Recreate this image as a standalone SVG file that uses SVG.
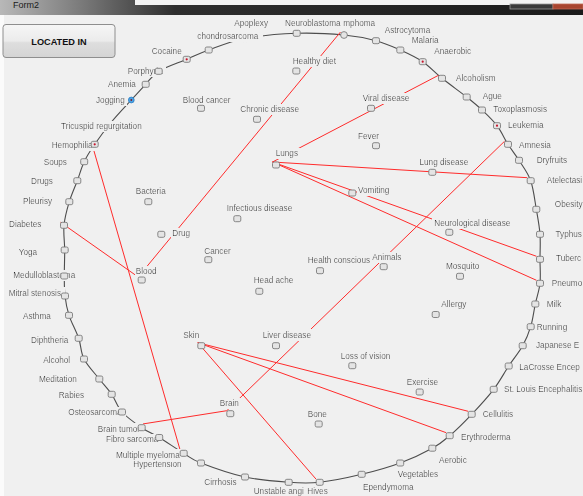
<svg xmlns="http://www.w3.org/2000/svg" xmlns:xlink="http://www.w3.org/1999/xlink" width="583" height="496" viewBox="0 0 583 496">
  <style>
    .lbl { font-family: "Liberation Sans", Arial, sans-serif; font-size: 8.2px; fill: #1c1c1c; filter: url(#lblbg); }
    .box { fill: #e4e4e4; stroke: #7c7c7c; stroke-width: 0.9; }
    .dot { fill: #c8142c; }
    .ring { fill: none; stroke: #4d4d4d; stroke-width: 1.1; }
    .edge { stroke: #ff2b2b; stroke-width: 1; fill: none; }
    .btn-text { font-family: "Liberation Sans", Arial, sans-serif; font-size: 9.2px; font-weight: bold; fill: #111; }
  </style>
  <defs>
    <!-- opaque label background, like a WinForms label control -->
    <filter id="lblbg" x="-0.02" y="-0.08" width="1.08" height="1.15">
      <feFlood flood-color="#f0f0f0"/>
      <feMerge>
        <feMergeNode/>
        <feMergeNode in="SourceGraphic"/>
      </feMerge>
    </filter>
    <linearGradient id="titleGrad" x1="0" y1="0" x2="1" y2="0">
      <stop offset="0" stop-color="#b8b8b8"/>
      <stop offset="0.14" stop-color="#7a7a7a"/>
      <stop offset="0.3" stop-color="#2e2e2e"/>
      <stop offset="1" stop-color="#1b1b1b"/>
    </linearGradient>
    <linearGradient id="btnGrad" x1="0" y1="0" x2="0" y2="1">
      <stop offset="0" stop-color="#f6f6f6"/>
      <stop offset="0.5" stop-color="#ebebeb"/>
      <stop offset="0.55" stop-color="#dedede"/>
      <stop offset="1" stop-color="#d4d4d4"/>
    </linearGradient>
    <rect id="box" class="box" width="7" height="6" rx="1.6"/>
    <circle id="dot" class="dot" cx="3.5" cy="3" r="1.1"/>
  </defs>

  <!-- form background -->
  <rect width="583" height="496" fill="#f0f0f0"/>
  <rect x="0" y="15" width="4" height="481" fill="#fbfbfb"/>

  <!-- window title strip -->
  <g id="title-bar">
    <rect x="0" y="0" width="583" height="15" fill="url(#titleGrad)"/>
    <rect x="135" y="0" width="448" height="5" fill="#f3f3f3"/>
    <rect x="510" y="4" width="43" height="5" fill="#3a3a3a" stroke="#9a9a9a" stroke-width="0.8"/>
    <rect x="553" y="4" width="30" height="5" fill="#a8452f" stroke="#c06a55" stroke-width="0.8"/>
    <text x="13" y="8" font-family="Liberation Sans, Arial, sans-serif" font-size="9" fill="#1a1a1a">Form2</text>
  </g>

  <!-- action button -->
  <g id="btn-located-in">
    <rect x="3" y="24.5" width="112" height="33" rx="3" fill="url(#btnGrad)" stroke="#8e8e8e" stroke-width="1"/>
    <text class="btn-text" x="59" y="44.5" text-anchor="middle">LOCATED IN</text>
  </g>

  <!-- outer ring through the peripheral nodes -->
  <path id="ring" class="ring" d="M296.7,33.3
    C313.2,32.72 330.78,33.77 344,35
    C357.22,36.23 366.62,38.2 376,40.7
    C385.38,43.2 392.52,46.5 400.3,50
    C408.08,53.5 415.75,56.98 422.7,61.7
    C429.65,66.42 434.67,72.42 442,78.3
    C449.33,84.18 460.03,91.72 466.7,97
    C473.37,102.28 476.95,105.22 482,110
    C487.05,114.78 492.67,119.98 497,125.7
    C501.33,131.42 504.33,138.53 508,144.3
    C511.67,150.07 515.22,154.23 519,160.3
    C522.78,166.37 527.82,172.53 530.7,180.7
    C533.58,188.87 534.75,200.37 536.3,209.3
    C537.85,218.23 539.38,225.97 540,234.3
    C540.62,242.63 540,251.13 540,259.3
    C540,267.47 540.78,275.85 540,283.3
    C539.22,290.75 536.85,296.77 535.3,304
    C533.75,311.23 532.8,319.75 530.7,326.7
    C528.6,333.65 526.37,339.15 522.7,345.7
    C519.03,352.25 513.53,358.73 508.7,366
    C503.87,373.27 499.87,381.25 493.7,389.3
    C487.53,397.35 479.03,406.57 471.7,414.3
    C464.37,422.03 456.27,430.05 449.7,435.7
    C443.13,441.35 440.55,443.65 432.3,448.2
    C424.05,452.75 411.97,458.65 400.2,463
    C388.43,467.35 375.12,471.08 361.7,474.3
    C348.28,477.52 331.87,480.97 319.7,482.3
    C307.53,483.63 301.15,483.18 288.7,482.3
    C276.25,481.42 259.62,480.22 245,477
    C230.38,473.78 211.22,466.95 201,463
    C190.78,459.05 190.67,457.55 183.7,453.3
    C176.73,449.05 166.2,441.77 159.2,437.5
    C152.2,433.23 147.9,431.95 141.7,427.7
    C135.5,423.45 127,417.57 122,412
    C117,406.43 115.48,399.8 111.7,394.3
    C107.92,388.8 103.92,384.88 99.3,379
    C94.68,373.12 87.43,365.78 84,359
    C80.57,352.22 81.2,345.58 78.7,338.3
    C76.2,331.02 71.28,322.35 69,315.3
    C66.72,308.25 65.78,302.55 65,296
    C64.22,289.45 64.35,283.67 64.3,276
    C64.25,268.33 64.75,258.45 64.7,250
    C64.65,241.55 63.23,233.35 64,225.3
    C64.77,217.25 67.08,209.13 69.3,201.7
    C71.52,194.27 74.82,187.37 77.3,180.7
    C79.78,174.03 81.3,167.77 84.2,161.7
    C87.1,155.63 90.15,150.92 94.7,144.3
    C99.25,137.68 105.4,129.38 111.5,122
    C117.6,114.62 125.6,106.28 131.3,100
    C137,93.72 141.13,89.08 145.7,84.3
    C150.27,79.52 151.87,75.47 158.7,71.3
    C165.53,67.13 178.37,62.85 186.7,59.3
    C195.03,55.75 198.98,53.47 208.7,50
    C218.42,46.53 230.33,41.28 245,38.5
    C259.67,35.72 280.2,33.88 296.7,33.3 Z"/>

  <!-- relation connectors -->
  <g id="connectors" class="edge">
    <line x1="91.2" y1="141.3" x2="180.2" y2="450.3"/>
    <line x1="60.5" y1="222.3" x2="138.2" y2="277"/>
    <line x1="138.2" y1="277" x2="340.5" y2="32"/>
    <line x1="272.5" y1="162" x2="438.5" y2="75.3"/>
    <line x1="272.5" y1="162" x2="527.2" y2="177.7"/>
    <line x1="272.5" y1="162" x2="536.5" y2="256.3"/>
    <line x1="272.5" y1="162" x2="536.5" y2="280.3"/>
    <line x1="226.8" y1="410.7" x2="504.5" y2="141.3"/>
    <line x1="226.8" y1="410.7" x2="138.2" y2="424.7"/>
    <line x1="197.8" y1="342.7" x2="468.2" y2="411.3"/>
    <line x1="197.8" y1="342.7" x2="446.2" y2="432.7"/>
    <line x1="197.8" y1="342.7" x2="316.2" y2="479.3"/>
  </g>

  <!-- peripheral nodes -->
  <g id="n-neuroblastoma"><text class="lbl" x="285" y="26">Neuroblastoma</text><use href="#box" x="293.2" y="30.3"/></g>
  <g id="n-lymphoma"><text class="lbl" x="343.3" y="26">mphoma</text><circle class="box" cx="344" cy="35" r="3.4"/></g>
  <g id="n-astrocytoma"><text class="lbl" x="384.7" y="33.3">Astrocytoma</text><use href="#box" x="372.5" y="37.7"/></g>
  <g id="n-malaria"><text class="lbl" x="411.7" y="42.7">Malaria</text><use href="#box" x="396.8" y="47"/></g>
  <g id="n-anaerobic"><text class="lbl" x="434.3" y="54.3">Anaerobic</text><use href="#box" x="419.2" y="58.7"/><use href="#dot" x="419.2" y="58.7"/></g>
  <g id="n-alcoholism"><text class="lbl" x="456" y="81">Alcoholism</text><use href="#box" x="438.5" y="75.3"/></g>
  <g id="n-ague"><text class="lbl" x="482.7" y="99.3">Ague</text><use href="#box" x="463.2" y="94"/></g>
  <g id="n-toxoplasmosis"><text class="lbl" x="493.3" y="112.3">Toxoplasmosis</text><use href="#box" x="478.5" y="107"/></g>
  <g id="n-leukemia"><text class="lbl" x="508" y="128.3">Leukemia</text><use href="#box" x="493.5" y="122.7"/><use href="#dot" x="493.5" y="122.7"/></g>
  <g id="n-amnesia"><text class="lbl" x="519" y="147.7">Amnesia</text><use href="#box" x="504.5" y="141.3"/></g>
  <g id="n-dryfruits"><text class="lbl" x="536.7" y="162.7">Dryfruits</text><use href="#box" x="515.5" y="157.3"/></g>
  <g id="n-atelectasis"><text class="lbl" x="546.7" y="182.7">Atelectasi</text><use href="#box" x="527.2" y="177.7"/></g>
  <g id="n-obesity"><text class="lbl" x="554.8" y="207.3">Obesity</text><use href="#box" x="532.8" y="206.3"/></g>
  <g id="n-typhus"><text class="lbl" x="555.5" y="236.7">Typhus</text><use href="#box" x="536.5" y="231.3"/></g>
  <g id="n-tuberculosis"><text class="lbl" x="556" y="261">Tuberc</text><use href="#box" x="536.5" y="256.3"/></g>
  <g id="n-pneumonia"><text class="lbl" x="551.7" y="286">Pneumo</text><use href="#box" x="536.5" y="280.3"/></g>
  <g id="n-milk"><text class="lbl" x="546.7" y="307.3">Milk</text><use href="#box" x="531.8" y="301"/></g>
  <g id="n-running"><text class="lbl" x="536.7" y="330">Running</text><use href="#box" x="527.2" y="323.7"/></g>
  <g id="n-japanese-encephalitis"><text class="lbl" x="536" y="347.7">Japanese E</text><use href="#box" x="519.2" y="342.7"/></g>
  <g id="n-lacrosse-encephalitis"><text class="lbl" x="519.3" y="370">LaCrosse Encep</text><use href="#box" x="505.2" y="363"/></g>
  <g id="n-st-louis-encephalitis"><text class="lbl" x="504" y="392.3">St. Louis Encephalitis</text><use href="#box" x="490.2" y="386.3"/></g>
  <g id="n-cellulitis"><text class="lbl" x="482.7" y="416.7">Cellulitis</text><use href="#box" x="468.2" y="411.3"/></g>
  <g id="n-erythroderma"><text class="lbl" x="461" y="440">Erythroderma</text><use href="#box" x="446.2" y="432.7"/></g>
  <g id="n-aerobic"><text class="lbl" x="439" y="462.7">Aerobic</text><use href="#box" x="428.8" y="445.2"/></g>
  <g id="n-vegetables"><text class="lbl" x="397.7" y="476.7">Vegetables</text><use href="#box" x="396.7" y="460"/></g>
  <g id="n-ependymoma"><text class="lbl" x="363" y="490">Ependymoma</text><use href="#box" x="358.2" y="471.3"/></g>
  <g id="n-unstable-angina"><text class="lbl" x="253.7" y="494">Unstable angi</text><use href="#box" x="285.2" y="479.3"/></g>
  <g id="n-hives"><text class="lbl" x="307.3" y="494">Hives</text><use href="#box" x="316.2" y="479.3"/></g>
  <g id="n-cirrhosis"><text class="lbl" x="204.3" y="485">Cirrhosis</text><use href="#box" x="241.5" y="474"/></g>
  <g id="n-hypertension"><text class="lbl" x="133.3" y="467">Hypertension</text><use href="#box" x="197.5" y="460"/></g>
  <g id="n-multiple-myeloma"><text class="lbl" x="116" y="457.7">Multiple myeloma</text><use href="#box" x="180.2" y="450.3"/></g>
  <g id="n-fibro-sarcoma"><text class="lbl" x="106" y="442.3">Fibro sarcoma</text><use href="#box" x="155.7" y="434.5"/></g>
  <g id="n-brain-tumor"><text class="lbl" x="97.7" y="431.7">Brain tumor</text><use href="#box" x="138.2" y="424.7"/></g>
  <g id="n-osteosarcoma"><text class="lbl" x="68.3" y="415.3">Osteosarcoma</text><use href="#box" x="118.5" y="409"/></g>
  <g id="n-rabies"><text class="lbl" x="58.7" y="397.7">Rabies</text><use href="#box" x="108.2" y="391.3"/></g>
  <g id="n-meditation"><text class="lbl" x="39" y="382.3">Meditation</text><use href="#box" x="95.8" y="376"/></g>
  <g id="n-alcohol"><text class="lbl" x="43.3" y="363.3">Alcohol</text><use href="#box" x="80.5" y="356"/></g>
  <g id="n-diphtheria"><text class="lbl" x="31" y="342.7">Diphtheria</text><use href="#box" x="75.2" y="335.3"/></g>
  <g id="n-asthma"><text class="lbl" x="23" y="319">Asthma</text><use href="#box" x="65.5" y="312.3"/></g>
  <g id="n-mitral-stenosis"><text class="lbl" x="8.7" y="295.7">Mitral stenosis</text><use href="#box" x="61.5" y="293"/></g>
  <g id="n-medulloblastoma"><text class="lbl" x="13.3" y="278.3">Medulloblastoma</text><use href="#box" x="60.8" y="273"/></g>
  <g id="n-yoga"><text class="lbl" x="18.7" y="255">Yoga</text><use href="#box" x="61.2" y="247"/></g>
  <g id="n-diabetes"><text class="lbl" x="9" y="227">Diabetes</text><use href="#box" x="60.5" y="222.3"/></g>
  <g id="n-pleurisy"><text class="lbl" x="23" y="204">Pleurisy</text><use href="#box" x="65.8" y="198.7"/></g>
  <g id="n-drugs"><text class="lbl" x="31" y="184">Drugs</text><use href="#box" x="73.8" y="177.7"/></g>
  <g id="n-soups"><text class="lbl" x="43.7" y="165">Soups</text><use href="#box" x="80.7" y="158.7"/></g>
  <g id="n-hemophilia"><text class="lbl" x="51.7" y="147.7">Hemophilia</text><use href="#box" x="91.2" y="141.3"/><use href="#dot" x="91.2" y="141.3"/></g>
  <g id="n-tricuspid-regurgitation"><text class="lbl" x="61" y="129">Tricuspid regurgitation</text></g>
  <g id="n-jogging"><text class="lbl" x="96" y="103.3">Jogging</text><circle cx="131.3" cy="100" r="2.9" fill="#4ba3e3" stroke="#2f7fc4" stroke-width="0.8"/><circle cx="131.3" cy="100" r="0.9" fill="#7a1f2a"/></g>
  <g id="n-anemia"><text class="lbl" x="108" y="86.7">Anemia</text><use href="#box" x="142.2" y="81.3"/></g>
  <g id="n-porphyria"><text class="lbl" x="127.7" y="74">Porphyria</text><use href="#box" x="155.2" y="68.3"/></g>
  <g id="n-cocaine"><text class="lbl" x="151.7" y="54.3">Cocaine</text><use href="#box" x="183.2" y="56.3"/><use href="#dot" x="183.2" y="56.3"/></g>
  <g id="n-apoplexy"><use href="#box" x="241.5" y="35.5"/><text class="lbl" x="234.3" y="26">Apoplexy</text></g>
  <g id="n-chondrosarcoma"><text class="lbl" x="197.3" y="38.7">chondrosarcoma</text><use href="#box" x="205.2" y="47"/></g>

  <!-- inner nodes -->
  <g id="n-healthy-diet"><text class="lbl" x="292.7" y="64">Healthy diet</text><use href="#box" x="292.8" y="68"/></g>
  <g id="n-blood-cancer"><text class="lbl" x="182.7" y="103.3">Blood cancer</text><use href="#box" x="197.5" y="105.3"/></g>
  <g id="n-chronic-disease"><text class="lbl" x="240.3" y="112.3">Chronic disease</text><use href="#box" x="253.5" y="116.3"/></g>
  <g id="n-viral-disease"><text class="lbl" x="362.7" y="101">Viral disease</text><use href="#box" x="367.5" y="105.3"/></g>
  <g id="n-fever"><text class="lbl" x="358" y="139">Fever</text><use href="#box" x="372.5" y="142.7"/></g>
  <g id="n-lungs"><text class="lbl" x="275.7" y="156">Lungs</text><use href="#box" x="272.5" y="162"/></g>
  <g id="n-lung-disease"><text class="lbl" x="419.5" y="165">Lung disease</text><use href="#box" x="428.8" y="169.3"/></g>
  <g id="n-vomiting"><text class="lbl" x="358" y="192.7">Vomiting</text><use href="#box" x="348.8" y="190"/></g>
  <g id="n-bacteria"><text class="lbl" x="135.7" y="194">Bacteria</text><use href="#box" x="144.8" y="198.7"/></g>
  <g id="n-infectious-disease"><text class="lbl" x="226.7" y="211.3">Infectious disease</text><use href="#box" x="233.8" y="215.7"/></g>
  <g id="n-drug"><text class="lbl" x="172.3" y="236">Drug</text><use href="#box" x="157.8" y="231.3"/></g>
  <g id="n-neurological-disease"><text class="lbl" x="434.3" y="225.5">Neurological disease</text><use href="#box" x="445.8" y="229.3"/></g>
  <g id="n-cancer"><text class="lbl" x="204.3" y="254">Cancer</text><use href="#box" x="204.8" y="256.7"/></g>
  <g id="n-health-conscious"><text class="lbl" x="307.7" y="262.7">Health conscious</text><use href="#box" x="316.5" y="267.7"/></g>
  <g id="n-animals"><text class="lbl" x="372.3" y="260">Animals</text><use href="#box" x="380.2" y="263.7"/></g>
  <g id="n-mosquito"><text class="lbl" x="446" y="268.7">Mosquito</text><use href="#box" x="456.5" y="273.3"/></g>
  <g id="n-blood"><text class="lbl" x="135.7" y="274.3">Blood</text><use href="#box" x="138.2" y="277"/></g>
  <g id="n-head-ache"><text class="lbl" x="253.7" y="283.3">Head ache</text><use href="#box" x="255.8" y="288.3"/></g>
  <g id="n-allergy"><text class="lbl" x="441.3" y="307.3">Allergy</text><use href="#box" x="432.2" y="311.5"/></g>
  <g id="n-skin"><text class="lbl" x="183.3" y="337.7">Skin</text><use href="#box" x="197.8" y="342.7"/></g>
  <g id="n-liver-disease"><text class="lbl" x="262.7" y="337.7">Liver disease</text><use href="#box" x="272.5" y="342.7"/></g>
  <g id="n-loss-of-vision"><text class="lbl" x="340.7" y="358.7">Loss of vision</text><use href="#box" x="348.8" y="362.7"/></g>
  <g id="n-exercise"><text class="lbl" x="406.7" y="385">Exercise</text><use href="#box" x="416.2" y="389"/></g>
  <g id="n-brain"><text class="lbl" x="219.7" y="406">Brain</text><use href="#box" x="226.8" y="410.7"/></g>
  <g id="n-bone"><text class="lbl" x="307.7" y="416.7">Bone</text><use href="#box" x="315.2" y="421"/></g>
</svg>
